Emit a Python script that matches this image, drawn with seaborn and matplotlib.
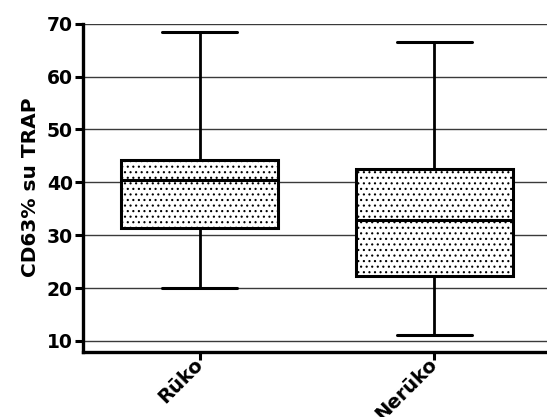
import matplotlib
matplotlib.use("Agg")
import matplotlib.pyplot as plt
import seaborn as sns
import pandas as pd

categories = ["Rūko", "Nerūko"]
# five-number summaries: min, Q1, median, Q3, max
ruko_values = [20.1, 31.4, 40.4, 44.3, 68.5]
neruko_values = [11.1, 22.2, 32.8, 42.6, 66.6]
y_ticks = [10, 20, 30, 40, 50, 60, 70]
y_label = "CD63% su TRAP"

df = pd.DataFrame({
    "group": [categories[0]] * len(ruko_values) + [categories[1]] * len(neruko_values),
    "value": ruko_values + neruko_values,
})

sns.set_style("white")
plt.rcParams["font.family"] = ["DejaVu Sans"]
plt.rcParams["hatch.linewidth"] = 0.8
plt.rcParams["hatch.color"] = "black"
plt.rcParams["text.color"] = "black"
plt.rcParams["axes.labelcolor"] = "black"
plt.rcParams["xtick.color"] = "black"
plt.rcParams["ytick.color"] = "black"

fig = plt.figure(figsize=(5.47, 4.17), dpi=100)
ax = fig.add_axes([0.151, 0.157, 0.849, 0.786])

lw = 2.2
sns.boxplot(data=df, x="group", y="value", order=categories, whis=(0, 100),
            width=0.67, color="white", linecolor="black", linewidth=lw,
            fliersize=0, ax=ax,
            capprops=dict(linewidth=lw), whiskerprops=dict(linewidth=2.0),
            medianprops=dict(linewidth=lw), boxprops=dict(linewidth=lw))

for patch in ax.patches:
    patch.set_hatch("...")
    patch.set_edgecolor("black")
    patch.set_facecolor("white")

# caps length
for line in ax.lines:
    xd = line.get_xdata()
    if len(xd) == 2 and xd[0] != xd[1]:
        yd = line.get_ydata()
        if yd[0] == yd[1]:
            c = (xd[0] + xd[1]) / 2
            w = abs(xd[1] - xd[0])
            if w < 0.5:
                line.set_xdata([c - 0.16, c + 0.16])

ax.set_ylim(8, 70)
ax.set_xlim(-0.5, 1.48)
ax.set_yticks(y_ticks)
ax.yaxis.grid(True, color="#3a3a3a", linewidth=1.0)
ax.set_axisbelow(True)

for side in ["top", "right"]:
    ax.spines[side].set_visible(False)
for side in ["left", "bottom"]:
    ax.spines[side].set_linewidth(2.4)
    ax.spines[side].set_color("black")

ax.tick_params(axis="both", which="major", direction="out", length=6, width=2.2,
               color="black", labelcolor="black", bottom=True, left=True)
ax.tick_params(axis="y", labelsize=13.5, pad=1)
ax.tick_params(axis="x", labelsize=14, pad=1)
for lab in ax.get_yticklabels():
    lab.set_fontweight("bold")
for lab in ax.get_xticklabels():
    lab.set_fontweight("bold")
    lab.set_rotation(45)
    lab.set_ha("right")
    lab.set_va("center")
    lab.set_rotation_mode("anchor")

ax.set_xlabel("")
ax.set_ylabel(y_label, fontsize=14.5, fontweight="bold", labelpad=5, color="black")

fig.savefig("out.png", dpi=100)
